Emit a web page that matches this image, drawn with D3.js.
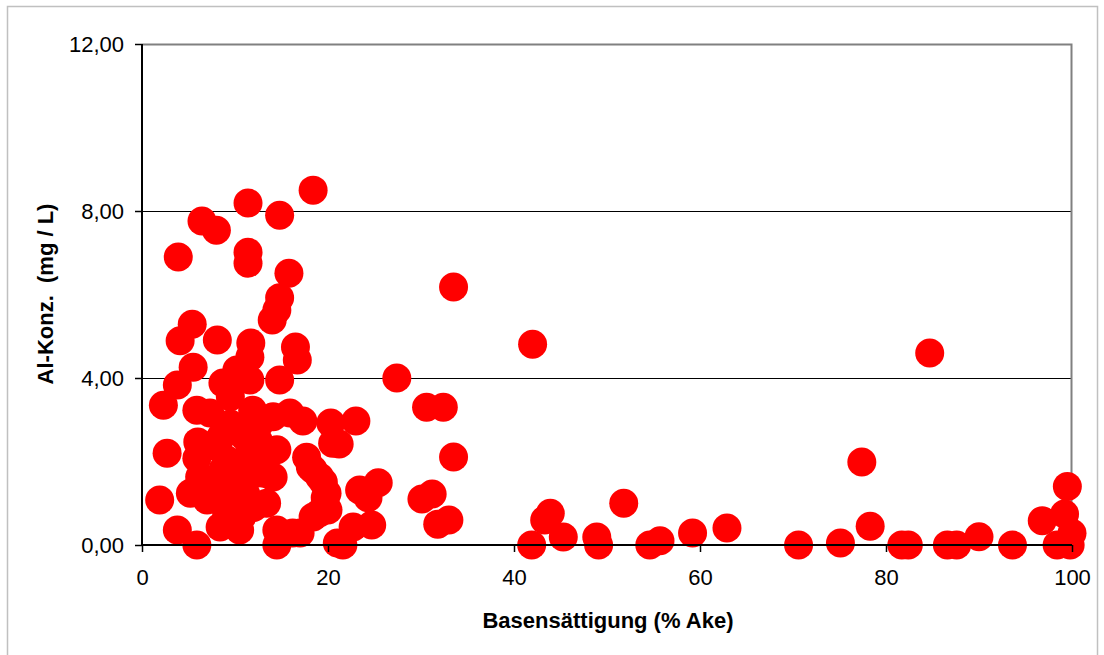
<!DOCTYPE html>
<meta charset="utf-8">
<script src="https://d3js.org/d3.v7.min.js"></script>
<style>
  body { margin: 0; background: #fff; }
  .title { font-family: "Liberation Sans", Arial, sans-serif; font-size: 22px; font-weight: bold; }
</style>
<div id="chart"></div>
<script>
// Basensättigung (% Ake)
var xVals = [11.4, 18.4, 14.8, 6.45, 8.0, 11.4, 11.4, 3.9, 15.8, 14.8, 14.5, 14.0, 5.4, 4.1, 8.1, 11.7, 16.5, 16.7, 5.5, 11.6,
  33.5, 42.0, 84.7, 27.4, 30.6, 32.4, 33.5, 20.3, 23.0, 21.2, 23.4, 25.4, 24.3, 30.1, 31.2, 31.8, 33.0, 22.7, 24.7, 21.6,
  17.3, 17.7, 18.1, 19.5, 19.7, 20.0, 18.4, 17.0,
  41.9, 43.3, 43.9, 45.3, 48.9, 49.1, 51.8, 54.6, 55.7, 59.2, 62.9,
  77.4, 78.3, 70.6, 75.1, 81.7, 82.4, 86.6, 87.6, 90.0, 93.6, 96.8, 99.5, 99.2, 100, 99.5, 98.4, 99.8,
  10.2, 3.8, 2.3, 14.8, 11.6, 8.7, 9.5, 5.9, 7.3, 11.9, 14.1, 15.9, 20.5, 2.7, 6.0, 5.9, 8.1, 9.1, 11.6, 14.5,
  18.4, 19.1, 6.2, 8.1, 8.7, 13.0, 14.1, 19.9, 1.9, 5.2, 7.0, 8.7, 13.4, 19.1, 3.8, 5.9, 8.4, 10.5, 9.1, 14.5, 14.5, 16.2, 21.0,
  10.0, 11.0, 12.5, 9.5, 10.5, 12.0, 9.8, 11.2, 12.6, 8.5, 13.5, 10.8, 12.0, 9.5, 10.5, 13.0];
// Al-Konz. (mg / L)
var yVals = [8.19, 8.5, 7.9, 7.76, 7.54, 7.01, 6.75, 6.9, 6.51, 5.92, 5.63, 5.39, 5.29, 4.89, 4.91, 4.84, 4.74, 4.43, 4.26, 4.5,
  6.18, 4.81, 4.6, 4.0, 3.3, 3.3, 2.11, 2.92, 2.97, 2.42, 1.32, 1.49, 1.13, 1.1, 1.22, 0.5, 0.6, 0.43, 0.48, 0.0,
  2.97, 2.1, 1.87, 1.51, 1.13, 0.84, 0.67, 0.29,
  0.0, 0.6, 0.76, 0.19, 0.19, 0.0, 1.0, 0.0, 0.1, 0.29, 0.41,
  1.99, 0.45, 0.0, 0.05, 0.0, 0.0, 0.0, 0.0, 0.2, 0.0, 0.58, 1.4, 0.74, 0.28, 0.05, 0.0, 0.0,
  4.19, 3.83, 3.35, 3.95, 3.95, 3.88, 3.55, 3.23, 3.16, 3.23, 3.07, 3.16, 2.44, 2.2, 2.47, 2.08, 2.35, 2.04, 2.28, 2.28,
  1.8, 1.63, 1.63, 1.49, 1.8, 1.72, 1.63, 1.24, 1.08, 1.24, 1.08, 1.15, 1.0, 0.77, 0.36, 0.0, 0.43, 0.36, 0.77, 0.36, 0.0, 0.29, 0.05,
  2.8, 2.6, 2.5, 2.9, 1.9, 1.7, 1.4, 1.2, 2.9, 2.6, 2.2, 0.7, 0.9, 0.6, 4.1, 2.0];
var xTicks = [0, 20, 40, 60, 80, 100];
var yTicks = [0, 4, 8, 12];

var W = 1104, H = 655;
var margin = {left: 142, top: 44, right: 32, bottom: 110};
var iw = W - margin.left - margin.right, ih = H - margin.top - margin.bottom;

var svg = d3.select("#chart").append("svg").attr("width", W).attr("height", H);

// outer frame
svg.append("rect").attr("x", 7.5).attr("y", 6.5).attr("width", 1090).attr("height", 660)
  .attr("fill", "none").attr("stroke", "#c0c0c0").attr("stroke-width", 1.5);

var g = svg.append("g").attr("transform", "translate(" + margin.left + "," + margin.top + ")");

var x = d3.scaleLinear().domain([0, 100]).range([0, iw]);
var y = d3.scaleLinear().domain([0, 12]).range([ih, 0]);

// gridlines
g.selectAll(".grid").data([4, 8]).enter().append("line")
  .attr("x1", 0).attr("x2", iw)
  .attr("y1", function(d) { return Math.round(y(d)) + 0.5; })
  .attr("y2", function(d) { return Math.round(y(d)) + 0.5; })
  .attr("stroke", "#000").attr("stroke-width", 1);

// plot frame top/right
g.append("path").attr("d", "M0,0.5H" + (iw - 0.5) + "V" + ih)
  .attr("fill", "none").attr("stroke", "#808080").attr("stroke-width", 2);

// points
g.selectAll("circle").data(xVals).enter().append("circle")
  .attr("cx", function(d) { return x(d); })
  .attr("cy", function(d, i) { return y(yVals[i]); })
  .attr("r", 14.5)
  .attr("fill", "#ff0000");

// axes
var yAxis = g.append("g").call(d3.axisLeft(y).tickValues(yTicks).tickSize(7).tickPadding(11)
  .tickFormat(function(d) { return d3.format(".2f")(d).replace(".", ","); }));
var xAxis = g.append("g").attr("transform", "translate(0," + ih + ")")
  .call(d3.axisBottom(x).tickValues(xTicks).tickSize(7).tickPadding(17));
[yAxis, xAxis].forEach(function(a) {
  a.selectAll(".tick text").attr("fill", "#000")
    .style("font-family", "'Liberation Sans', Arial, sans-serif").style("font-size", "22px");
  a.select(".domain").attr("stroke", "#000").attr("stroke-width", 2);
  a.selectAll(".tick line").attr("stroke", "#000").attr("stroke-width", 1.5);
});
yAxis.select(".domain").attr("d", "M0,0V" + ih);
xAxis.select(".domain").attr("d", "M0,0H" + iw);

// titles
svg.append("text").attr("class", "title").attr("x", 608).attr("y", 628)
  .attr("text-anchor", "middle").text("Basensättigung (% Ake)");
svg.append("text").attr("class", "title")
  .attr("transform", "translate(53,294) rotate(-90)")
  .attr("text-anchor", "middle").attr("xml:space", "preserve")
  .text("Al-Konz.  (mg / L)");
</script>
